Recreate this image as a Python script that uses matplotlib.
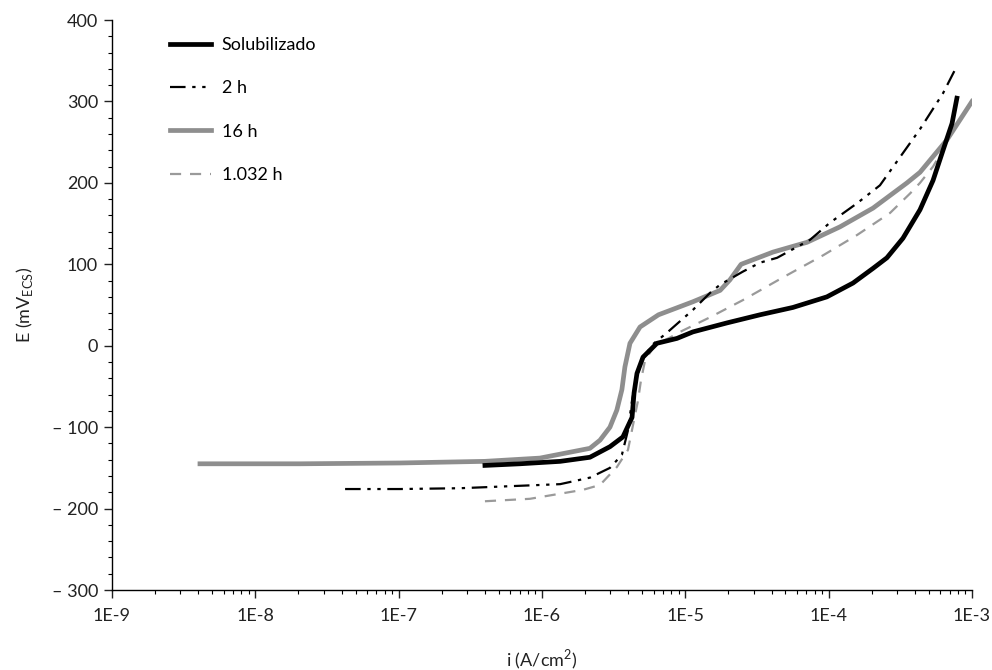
import matplotlib
matplotlib.use("Agg")
import matplotlib.pyplot as plt
from matplotlib.ticker import LogLocator, FixedLocator, MultipleLocator, NullFormatter

plt.rcParams['font.family'] = ['Lato', 'DejaVu Sans']

# Solubilizado
i_sol = [4.0e-7, 7.0e-7, 1.34e-6, 2.16e-6, 2.98e-6, 3.67e-6, 4.25e-6, 4.39e-6, 4.60e-6,
         5.07e-6, 6.34e-6, 8.75e-6, 1.13e-5, 1.95e-5, 3.32e-5, 5.63e-5, 9.72e-5, 1.48e-4,
         2.04e-4, 2.55e-4, 3.30e-4, 4.34e-4, 5.35e-4, 6.28e-4, 7.26e-4, 7.85e-4]
E_sol = [-147, -145, -142, -137, -124, -112, -88, -58, -34, -14, 3, 9, 17, 28, 38, 47,
         60, 77, 95, 108, 132, 167, 203, 240, 273, 304]

# 2 h
i_2h = [4.23e-8, 1.02e-7, 2.68e-7, 7.03e-7, 1.34e-6, 2.16e-6, 2.98e-6, 3.61e-6, 3.98e-6,
        4.25e-6, 4.53e-6, 4.99e-6, 5.86e-6, 7.45e-6, 1.13e-5, 1.49e-5, 1.75e-5, 2.52e-5,
        3.32e-5, 4.37e-5, 7.41e-5, 1.02e-4, 1.58e-4, 2.28e-4, 4.34e-4, 6.28e-4, 7.62e-4]
E_2h = [-176, -176, -175, -172, -170, -162, -150, -134, -104, -67, -42, -18, 1, 16, 44,
        65, 75, 91, 102, 108, 130, 151, 175, 197, 266, 310, 339]

# 16 h
i_16h = [4.11e-9, 2.05e-8, 1.02e-7, 4.0e-7, 9.68e-7, 2.16e-6, 2.54e-6, 2.98e-6, 3.33e-6,
         3.61e-6, 3.79e-6, 4.11e-6, 4.83e-6, 6.50e-6, 1.13e-5, 1.75e-5, 2.05e-5, 2.45e-5,
         4.09e-5, 7.06e-5, 1.20e-4, 2.04e-4, 3.52e-4, 4.34e-4, 6.70e-4, 1.0e-3]
E_16h = [-145, -145, -144, -142, -138, -126, -116, -100, -79, -54, -26, 3, 23, 38, 54,
         68, 81, 100, 115, 127, 146, 169, 200, 213, 253, 300]

# 1.032 h
i_1032h = [4.0e-7, 8.24e-7, 1.93e-6, 2.54e-6, 3.33e-6, 3.98e-6, 4.39e-6, 4.68e-6, 4.91e-6,
           5.24e-6, 6.14e-6, 7.82e-6, 9.19e-6, 1.49e-5, 2.52e-5, 4.81e-5, 9.14e-5, 1.58e-4,
           2.68e-4, 3.70e-4, 4.34e-4, 5.35e-4, 6.49e-4]
E_1032h = [-191, -188, -177, -171, -149, -128, -91, -67, -42, -18, 1, 10, 17, 35, 56, 84,
           111, 136, 163, 187, 200, 220, 245]

x_ticks = [1e-9, 1e-8, 1e-7, 1e-6, 1e-5, 1e-4, 1e-3]
x_labels = ['1E-9', '1E-8', '1E-7', '1E-6', '1E-5', '1E-4', '1E-3']
y_ticks = [-300, -200, -100, 0, 100, 200, 300, 400]
y_labels = ['– 300', '– 200', '– 100', '0', '100', '200', '300', '400']

fig = plt.figure(figsize=(9.92, 6.70), dpi=100)
ax = fig.add_axes([0.1129, 0.1194, 0.8669, 0.8507])

ax.plot(i_16h, E_16h, color='#8e8e8e', lw=3.4, label='16 h', zorder=2)
ax.plot(i_1032h, E_1032h, color='#9a9a9a', lw=1.6, ls=(0, (5, 4)), label='1.032 h', zorder=3)
ax.plot(i_sol, E_sol, color='#000000', lw=3.4, label='Solubilizado', zorder=4)
ax.plot(i_2h, E_2h, color='#000000', lw=1.6, ls=(0, (7, 3, 1.5, 3, 1.5, 3)), label='2 h', zorder=5)

ax.set_xscale('log')
ax.set_xlim(1e-9, 1e-3)
ax.set_ylim(-300, 400)
ax.xaxis.set_major_locator(FixedLocator(x_ticks))
ax.set_xticklabels(x_labels)
ax.xaxis.set_minor_locator(LogLocator(base=10, subs=range(2, 10), numticks=20))
ax.xaxis.set_minor_formatter(NullFormatter())
ax.set_yticks(y_ticks)
ax.set_yticklabels(y_labels)
ax.yaxis.set_minor_locator(MultipleLocator(20))

for s in ['top', 'right']:
    ax.spines[s].set_visible(False)
for s in ['left', 'bottom']:
    ax.spines[s].set_linewidth(1.0)

ax.tick_params(axis='both', which='major', direction='out', length=6, width=1.0,
               labelsize=13, colors='#222222')
ax.tick_params(axis='both', which='minor', direction='out', length=3, width=0.8)
ax.tick_params(axis='x', pad=7)
ax.tick_params(axis='y', pad=4)

ax.set_xlabel('i (A/cm$^{\\mathregular{2}}$)', fontsize=13, labelpad=17, color='#222222')
ax.set_ylabel('E (mV$_{\\mathregular{ECS}}$)', fontsize=13, labelpad=12, color='#222222')

handles, labels = ax.get_legend_handles_labels()
order = ['Solubilizado', '2 h', '16 h', '1.032 h']
hmap = dict(zip(labels, handles))
leg = ax.legend([hmap[k] for k in order], order, loc='upper left',
                bbox_to_anchor=(0.048, 0.999), frameon=False, fontsize=13,
                handlelength=2.3, labelspacing=1.52, handletextpad=0.6)

fig.savefig('out.png', dpi=100)
